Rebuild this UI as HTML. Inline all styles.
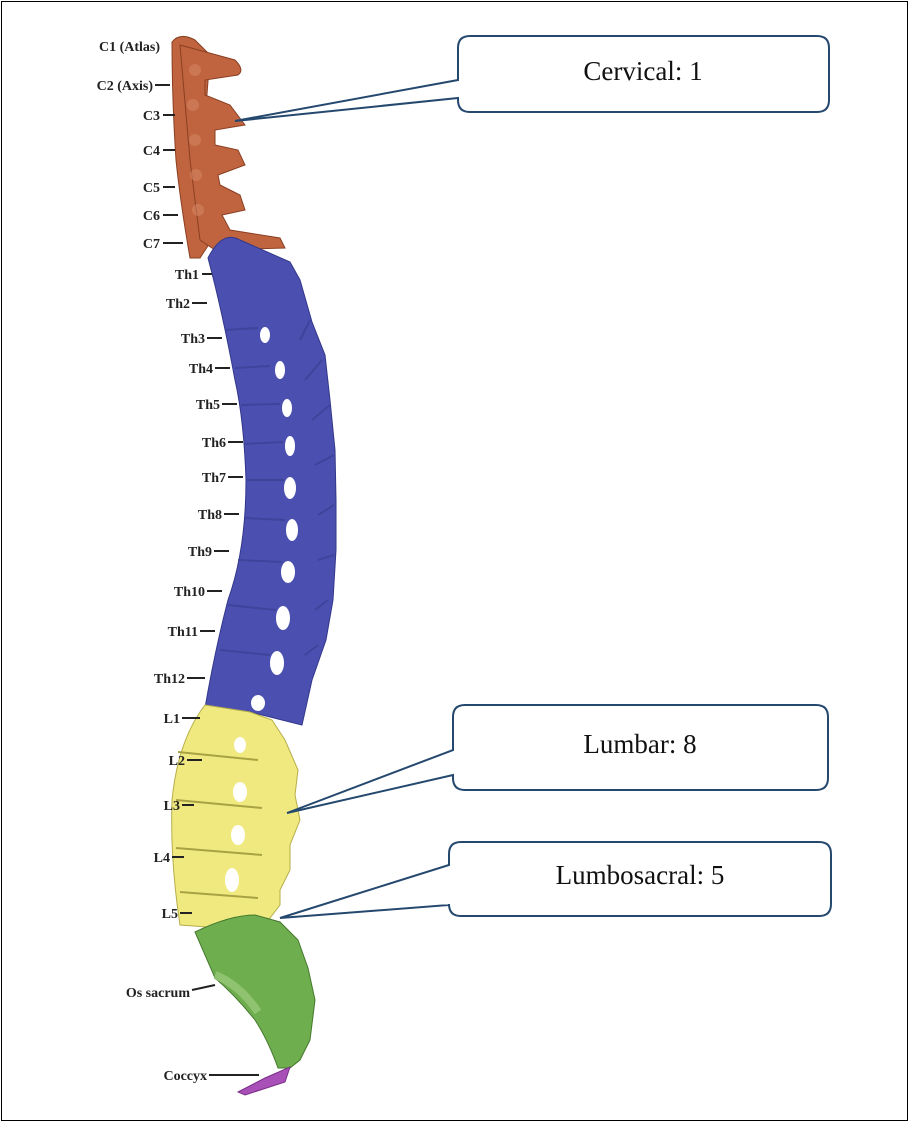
<!DOCTYPE html>
<html><head><meta charset="utf-8"><style>
html,body{margin:0;padding:0;background:#fff;}
body{width:909px;height:1122px;overflow:hidden;position:relative;}
.frame{position:absolute;left:1px;top:1px;width:905px;height:1118px;border:1px solid #000;}
.lab{font-family:"Liberation Serif",serif;font-weight:bold;font-size:14px;fill:#222;}
.box{font-family:"Liberation Serif",serif;font-size:27px;fill:#111;}
</style></head><body>
<div class="frame"></div>
<svg width="909" height="1122" style="position:absolute;left:0;top:0">
<!-- Cervical -->
<g fill="#c0643f" stroke="#8a3f22" stroke-width="1">
<path d="M172,42 Q180,32 195,40 L210,55 L205,120 L205,200 L215,235 L200,258 L190,258 Q180,200 176,160 Q172,100 172,42Z"/>
<path d="M180,45 L235,60 Q245,70 238,75 L205,80 L205,95 L230,105 L245,125 L215,130 L215,145 L238,150 L245,165 L218,175 L220,185 L240,195 L245,210 L222,215 L230,230 L280,238 L285,248 L215,250 L200,240 L190,160 Z"/>
</g>
<g fill="#d88a68" opacity="0.5">
<circle cx="195" cy="70" r="6"/><circle cx="193" cy="105" r="6"/><circle cx="195" cy="140" r="6"/><circle cx="196" cy="175" r="6"/><circle cx="198" cy="210" r="6"/>
</g>
<!-- Thoracic -->
<path d="M208,258 Q222,230 240,240 L290,262 L300,280 L312,322 L325,355 L330,400 L335,450 L336,500 L336,550 L333,600 L326,640 L312,680 L302,725 L250,712 L205,708 Q215,650 228,600 Q246,550 246,480 Q244,420 235,380 Q222,310 208,258Z" fill="#4b50b0" stroke="#33378a" stroke-width="1"/>
<g fill="#fff">
<ellipse cx="265" cy="335" rx="5" ry="8"/>
<ellipse cx="280" cy="370" rx="5" ry="9"/>
<ellipse cx="287" cy="408" rx="5" ry="9"/>
<ellipse cx="290" cy="446" rx="5" ry="10"/>
<ellipse cx="290" cy="488" rx="6" ry="11"/>
<ellipse cx="292" cy="530" rx="6" ry="11"/>
<ellipse cx="288" cy="572" rx="7" ry="11"/>
<ellipse cx="283" cy="618" rx="7" ry="12"/>
<ellipse cx="277" cy="663" rx="7" ry="12"/>
<ellipse cx="258" cy="703" rx="7" ry="8"/>
</g>
<g stroke="#3c4097" stroke-width="2" fill="none" opacity="0.8">
<path d="M225,330 L258,328 M235,368 L270,366 M241,405 L280,404 M244,444 L283,442 M246,480 L284,480 M244,518 L285,520 M238,560 L282,562 M228,605 L276,610 M220,650 L270,655"/>
<path d="M310,320 L300,340 M322,360 L305,380 M330,405 L312,420 M334,455 L315,465 M334,505 L318,515 M334,555 L318,560 M328,600 L315,610 M318,645 L305,655"/>
</g>
<!-- Lumbar -->
<g fill="#efe97f" stroke="#b6ae4a" stroke-width="1">
<path d="M205,705 L250,712 L272,720 L285,740 L298,770 L295,795 L300,820 L290,845 L290,870 L280,890 L280,905 L270,918 L248,930 L180,925 Q170,860 172,800 Q178,740 205,705Z"/>
<path d="M178,752 L258,760 M176,800 L262,808 M176,848 L262,855 M180,892 L258,898" stroke="#a9a243" stroke-width="2" fill="none"/>
<ellipse cx="240" cy="745" rx="6" ry="8" fill="#fff" stroke="none"/>
<ellipse cx="240" cy="792" rx="7" ry="10" fill="#fff" stroke="none"/>
<ellipse cx="238" cy="835" rx="7" ry="10" fill="#fff" stroke="none"/>
<ellipse cx="232" cy="880" rx="7" ry="12" fill="#fff" stroke="none"/>
</g>
<!-- Sacrum -->
<path d="M195,932 Q230,915 255,915 L280,922 L298,940 L308,968 L315,1000 L310,1040 L300,1060 L290,1068 L278,1068 Q268,1040 255,1020 Q235,995 215,978 Z" fill="#6fae4f" stroke="#44782d" stroke-width="1"/>
<path d="M215,975 Q240,985 258,1012" stroke="#9ccc7e" stroke-width="8" fill="none" opacity="0.7"/>
<path d="M265,1078 L290,1067 L285,1082 L245,1095 L238,1092Z" fill="#a94fb8" stroke="#7a2f88"/>
<!-- Labels -->
<g class="lab" text-anchor="end">
<text x="160" y="51">C1 (Atlas)</text>
<text x="153" y="90">C2 (Axis)</text>
<text x="160" y="120">C3</text>
<text x="160" y="155">C4</text>
<text x="160" y="192">C5</text>
<text x="160" y="220">C6</text>
<text x="160" y="248">C7</text>
<text x="199" y="279">Th1</text>
<text x="190" y="308">Th2</text>
<text x="205" y="343">Th3</text>
<text x="213" y="373">Th4</text>
<text x="220" y="409">Th5</text>
<text x="226" y="447">Th6</text>
<text x="226" y="482">Th7</text>
<text x="222" y="519">Th8</text>
<text x="212" y="556">Th9</text>
<text x="205" y="596">Th10</text>
<text x="198" y="636">Th11</text>
<text x="185" y="683">Th12</text>
<text x="180" y="723">L1</text>
<text x="185" y="765">L2</text>
<text x="180" y="810">L3</text>
<text x="170" y="862">L4</text>
<text x="178" y="918">L5</text>
<text x="190" y="997">Os sacrum</text>
<text x="207" y="1080">Coccyx</text>
</g>
<g stroke="#222" stroke-width="2">
<path d="M155,85h15 M163,115h12 M163,150h12 M163,187h12 M163,215h15 M163,243h20 M202,274h10 M192,303h15 M207,338h15 M215,368h15 M222,404h15 M228,442h15 M228,477h15 M224,514h15 M214,551h15 M207,591h15 M200,631h15 M187,678h18 M182,718h18 M187,760h15 M182,805h12 M172,857h12 M180,913h12 M192,990 L215,985 M209,1075h50"/>
</g>
<!-- Callouts -->
<g fill="#fff" stroke="#24486e" stroke-width="2">
<path d="M470,36 H817 Q829,36 829,48 V100 Q829,112 817,112 H470 Q458,112 458,100 V98 L235,121 L458,80 V48 Q458,36 470,36Z"/>
<path d="M465,705 H816 Q828,705 828,717 V778 Q828,790 816,790 H465 Q453,790 453,778 V775 L287,813 L453,750 V717 Q453,705 465,705Z"/>
<path d="M461,842 H819 Q831,842 831,854 V904 Q831,916 819,916 H461 Q449,916 449,904 V905 L280,918 L449,865 V854 Q449,842 461,842Z"/>
</g>
<g class="box" text-anchor="middle">
<text x="643" y="80">Cervical: 1</text>
<text x="640" y="753">Lumbar: 8</text>
<text x="640" y="884">Lumbosacral: 5</text>
</g>
</svg>
</body></html>
